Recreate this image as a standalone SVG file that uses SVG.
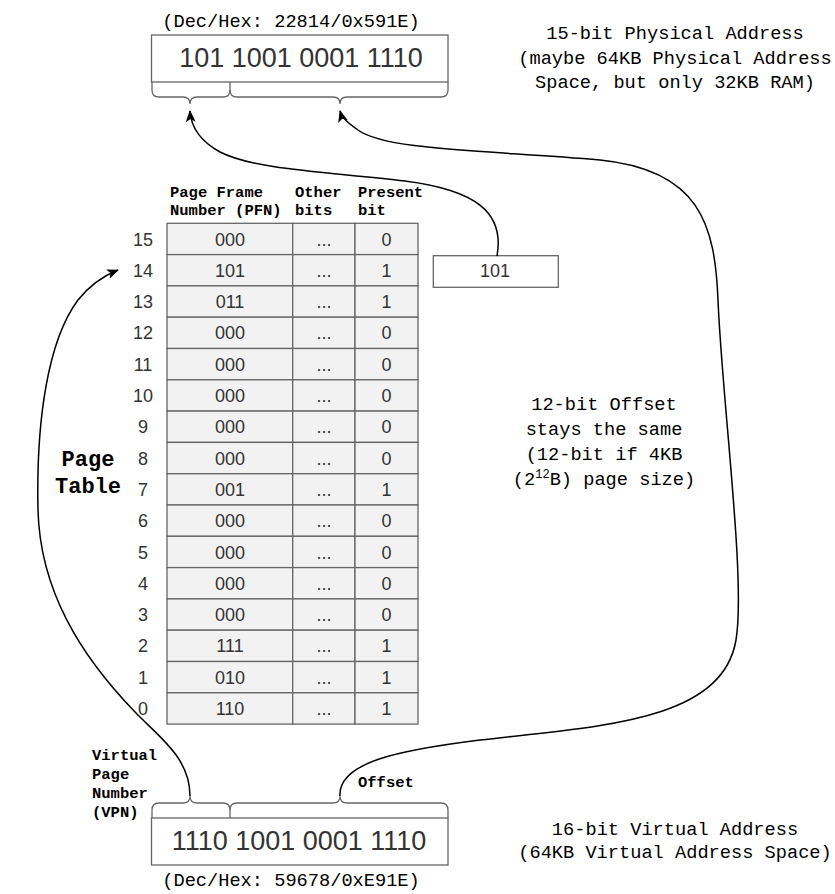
<svg xmlns="http://www.w3.org/2000/svg" width="835" height="894" viewBox="0 0 835 894">
<style>
.mono{font-family:"Liberation Mono",monospace;font-size:18.67px;fill:#000}
.monob{font-family:"Liberation Mono",monospace;font-weight:bold;font-size:15.5px;fill:#000}
.big{font-family:"Liberation Sans",Arial,sans-serif;font-size:27px;fill:#333;text-anchor:middle}
.cell{font-family:"Liberation Sans",Arial,sans-serif;font-size:18px;fill:#333;text-anchor:middle}
.box{fill:#fff;stroke:#666;stroke-width:1.3}
.tc{fill:#f2f2f2;stroke:#666;stroke-width:1.3}
.brace{fill:none;stroke:#666;stroke-width:1.3}
.edge{fill:none;stroke:#000;stroke-width:1.5}
.mid{text-anchor:middle}
</style>
<defs>
<marker id="arr" markerUnits="userSpaceOnUse" markerWidth="14" markerHeight="12" refX="11" refY="5" orient="auto" viewBox="0 0 14 10">
<path d="M0,0 L12,5 L0,10 L3,5 z" fill="#000"/>
</marker>
</defs>

<g id="physical-address">
<text class="mono mid" x="291" y="27">(Dec/Hex: 22814/0x591E)</text>
<rect class="box" x="151.5" y="35" width="296.5" height="47"/>
<text class="big" x="301" y="67">101 1001 0001 1110</text>
<path class="brace" d="M152,82 L152,90 Q152,97 159,97 L183,97 Q190,97 190,104 Q190,97 197,97 L223,97 Q230,97 230,90 L230,82"/>
<path class="brace" d="M230,90 Q230,97 237,97 L333,97 Q340,97 340,104 Q340,97 347,97 L441,97 Q448,97 448,90 L448,82"/>
</g>

<g id="physical-label">
<text class="mono mid" x="675" y="39">15-bit Physical Address</text>
<text class="mono mid" x="675" y="63.5">(maybe 64KB Physical Address</text>
<text class="mono mid" x="675" y="88">Space, but only 32KB RAM)</text>
</g>

<g id="page-table">
<text class="monob" x="170" y="196.5">Page Frame</text>
<text class="monob" x="170" y="214.5">Number (PFN)</text>
<text class="monob" x="295" y="196.5">Other</text>
<text class="monob" x="295" y="214.5">bits</text>
<text class="monob" x="358" y="196.5">Present</text>
<text class="monob" x="358" y="214.5">bit</text>
<g id="rows">
<rect class="tc" x="167" y="223.3" width="125.7" height="31.3"/><rect class="tc" x="292.7" y="223.3" width="62.3" height="31.3"/><rect class="tc" x="355" y="223.3" width="63" height="31.3"/>
<rect class="tc" x="167" y="254.6" width="125.7" height="31.3"/><rect class="tc" x="292.7" y="254.6" width="62.3" height="31.3"/><rect class="tc" x="355" y="254.6" width="63" height="31.3"/>
<rect class="tc" x="167" y="285.9" width="125.7" height="31.3"/><rect class="tc" x="292.7" y="285.9" width="62.3" height="31.3"/><rect class="tc" x="355" y="285.9" width="63" height="31.3"/>
<rect class="tc" x="167" y="317.2" width="125.7" height="31.3"/><rect class="tc" x="292.7" y="317.2" width="62.3" height="31.3"/><rect class="tc" x="355" y="317.2" width="63" height="31.3"/>
<rect class="tc" x="167" y="348.5" width="125.7" height="31.3"/><rect class="tc" x="292.7" y="348.5" width="62.3" height="31.3"/><rect class="tc" x="355" y="348.5" width="63" height="31.3"/>
<rect class="tc" x="167" y="379.8" width="125.7" height="31.3"/><rect class="tc" x="292.7" y="379.8" width="62.3" height="31.3"/><rect class="tc" x="355" y="379.8" width="63" height="31.3"/>
<rect class="tc" x="167" y="411.1" width="125.7" height="31.3"/><rect class="tc" x="292.7" y="411.1" width="62.3" height="31.3"/><rect class="tc" x="355" y="411.1" width="63" height="31.3"/>
<rect class="tc" x="167" y="442.4" width="125.7" height="31.3"/><rect class="tc" x="292.7" y="442.4" width="62.3" height="31.3"/><rect class="tc" x="355" y="442.4" width="63" height="31.3"/>
<rect class="tc" x="167" y="473.7" width="125.7" height="31.3"/><rect class="tc" x="292.7" y="473.7" width="62.3" height="31.3"/><rect class="tc" x="355" y="473.7" width="63" height="31.3"/>
<rect class="tc" x="167" y="505" width="125.7" height="31.3"/><rect class="tc" x="292.7" y="505" width="62.3" height="31.3"/><rect class="tc" x="355" y="505" width="63" height="31.3"/>
<rect class="tc" x="167" y="536.3" width="125.7" height="31.3"/><rect class="tc" x="292.7" y="536.3" width="62.3" height="31.3"/><rect class="tc" x="355" y="536.3" width="63" height="31.3"/>
<rect class="tc" x="167" y="567.6" width="125.7" height="31.3"/><rect class="tc" x="292.7" y="567.6" width="62.3" height="31.3"/><rect class="tc" x="355" y="567.6" width="63" height="31.3"/>
<rect class="tc" x="167" y="598.9" width="125.7" height="31.3"/><rect class="tc" x="292.7" y="598.9" width="62.3" height="31.3"/><rect class="tc" x="355" y="598.9" width="63" height="31.3"/>
<rect class="tc" x="167" y="630.2" width="125.7" height="31.3"/><rect class="tc" x="292.7" y="630.2" width="62.3" height="31.3"/><rect class="tc" x="355" y="630.2" width="63" height="31.3"/>
<rect class="tc" x="167" y="661.5" width="125.7" height="31.3"/><rect class="tc" x="292.7" y="661.5" width="62.3" height="31.3"/><rect class="tc" x="355" y="661.5" width="63" height="31.3"/>
<rect class="tc" x="167" y="692.8" width="125.7" height="31.3"/><rect class="tc" x="292.7" y="692.8" width="62.3" height="31.3"/><rect class="tc" x="355" y="692.8" width="63" height="31.3"/>
</g>
<g id="row-text">
<text class="cell" x="143" y="245.5">15</text><text class="cell" x="230" y="245.5">000</text><text class="cell" x="324" y="245.5">...</text><text class="cell" x="386.5" y="245.5">0</text>
<text class="cell" x="143" y="276.8">14</text><text class="cell" x="230" y="276.8">101</text><text class="cell" x="324" y="276.8">...</text><text class="cell" x="386.5" y="276.8">1</text>
<text class="cell" x="143" y="308.1">13</text><text class="cell" x="230" y="308.1">011</text><text class="cell" x="324" y="308.1">...</text><text class="cell" x="386.5" y="308.1">1</text>
<text class="cell" x="143" y="339.4">12</text><text class="cell" x="230" y="339.4">000</text><text class="cell" x="324" y="339.4">...</text><text class="cell" x="386.5" y="339.4">0</text>
<text class="cell" x="143" y="370.7">11</text><text class="cell" x="230" y="370.7">000</text><text class="cell" x="324" y="370.7">...</text><text class="cell" x="386.5" y="370.7">0</text>
<text class="cell" x="143" y="402">10</text><text class="cell" x="230" y="402">000</text><text class="cell" x="324" y="402">...</text><text class="cell" x="386.5" y="402">0</text>
<text class="cell" x="143" y="433.3">9</text><text class="cell" x="230" y="433.3">000</text><text class="cell" x="324" y="433.3">...</text><text class="cell" x="386.5" y="433.3">0</text>
<text class="cell" x="143" y="464.6">8</text><text class="cell" x="230" y="464.6">000</text><text class="cell" x="324" y="464.6">...</text><text class="cell" x="386.5" y="464.6">0</text>
<text class="cell" x="143" y="495.9">7</text><text class="cell" x="230" y="495.9">001</text><text class="cell" x="324" y="495.9">...</text><text class="cell" x="386.5" y="495.9">1</text>
<text class="cell" x="143" y="527.2">6</text><text class="cell" x="230" y="527.2">000</text><text class="cell" x="324" y="527.2">...</text><text class="cell" x="386.5" y="527.2">0</text>
<text class="cell" x="143" y="558.5">5</text><text class="cell" x="230" y="558.5">000</text><text class="cell" x="324" y="558.5">...</text><text class="cell" x="386.5" y="558.5">0</text>
<text class="cell" x="143" y="589.8">4</text><text class="cell" x="230" y="589.8">000</text><text class="cell" x="324" y="589.8">...</text><text class="cell" x="386.5" y="589.8">0</text>
<text class="cell" x="143" y="621.1">3</text><text class="cell" x="230" y="621.1">000</text><text class="cell" x="324" y="621.1">...</text><text class="cell" x="386.5" y="621.1">0</text>
<text class="cell" x="143" y="652.4">2</text><text class="cell" x="230" y="652.4">111</text><text class="cell" x="324" y="652.4">...</text><text class="cell" x="386.5" y="652.4">1</text>
<text class="cell" x="143" y="683.7">1</text><text class="cell" x="230" y="683.7">010</text><text class="cell" x="324" y="683.7">...</text><text class="cell" x="386.5" y="683.7">1</text>
<text class="cell" x="143" y="715">0</text><text class="cell" x="230" y="715">110</text><text class="cell" x="324" y="715">...</text><text class="cell" x="386.5" y="715">1</text>
</g>
</g>

<g id="page-table-label">
<text class="mono mid" style="font-weight:bold;font-size:22px" x="88" y="465.5">Page</text>
<text class="mono mid" style="font-weight:bold;font-size:22px" x="88" y="493">Table</text>
</g>

<g id="pfn-box">
<rect class="box" x="433.3" y="255.7" width="125" height="31.6"/>
<text class="cell" x="495" y="277">101</text>
</g>

<g id="offset-label">
<text class="mono mid" x="604" y="409.5">12-bit Offset</text>
<text class="mono mid" x="604" y="435">stays the same</text>
<text class="mono mid" x="604" y="460">(12-bit if 4KB</text>
<text class="mono mid" x="604" y="485">(2<tspan font-size="12" dy="-7">12</tspan><tspan dy="7">B) page size)</tspan></text>
</g>

<g id="virtual-address">
<path class="brace" d="M152,818 L152,810 Q152,803 159,803 L183,803 Q190,803 190,796 Q190,803 197,803 L223,803 Q230,803 230,810 L230,818"/>
<path class="brace" d="M230,810 Q230,803 237,803 L333,803 Q340,803 340,796 Q340,803 347,803 L441,803 Q448,803 448,810 L448,818"/>
<rect class="box" x="151.5" y="818" width="296.5" height="47"/>
<text class="big" x="299" y="850">1110 1001 0001 1110</text>
<text class="mono mid" x="291" y="886">(Dec/Hex: 59678/0xE91E)</text>
<text class="monob" x="92" y="760">Virtual</text>
<text class="monob" x="92" y="779">Page</text>
<text class="monob" x="92" y="798">Number</text>
<text class="monob" x="92" y="817">(VPN)</text>
<text class="monob" x="358" y="787">Offset</text>
</g>

<g id="virtual-label">
<text class="mono mid" x="675" y="835">16-bit Virtual Address</text>
<text class="mono mid" x="675" y="858">(64KB Virtual Address Space)</text>
</g>

<g id="connectors">
<path class="edge" marker-end="url(#arr)" d="M497,256 C505,212 475,190 405,181 C330,172 255,170 220,152 C200,141 191,127 190,111"/>
<path class="edge" marker-end="url(#arr)" d="M340,796 C338,762 400,750 480,740 C600,726 722,722 736,640 C746,580 722,400 718,300 C715,225 700,170 600,160 C480,150 385,150 358,130 C348,123 342,118 340,111"/>
<path class="edge" marker-end="url(#arr)" d="M190,796 C190,758 160,738 135,712 C80,655 40,590 38,510 C36,420 48,340 78,300 C90,285 103,276 118,270"/>
</g>
</svg>
